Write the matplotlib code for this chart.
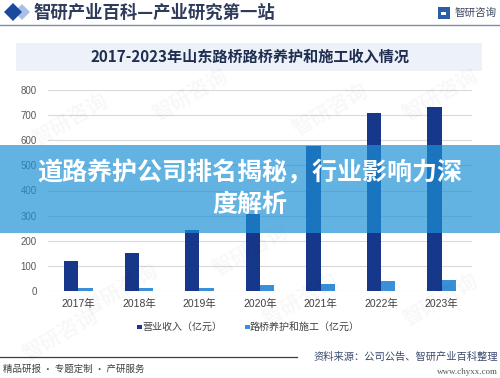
import matplotlib
matplotlib.use("Agg")
import matplotlib.pyplot as plt
from matplotlib.patches import Rectangle, Polygon
import numpy as np

plt.rcParams['font.family'] = ['Liberation Sans', 'Noto Sans CJK SC', 'DejaVu Sans']

categories = ['2017年', '2018年', '2019年', '2020年', '2021年', '2022年', '2023年']
revenue = [121, 152, 244, 305, 577, 707, 732]
maintenance = [11, 13, 11, 24, 29, 41, 44]
series_names = ['营业收入（亿元）', '路桥养护和施工（亿元）']
y_ticks = [0, 100, 200, 300, 400, 500, 600, 700, 800]

header_text = '智研产业百科—产业研究第一站'
logo_text = '智研咨询'
chart_title = '2017-2023年山东路桥路桥养护和施工收入情况'
banner_line1 = '道路养护公司排名揭秘，行业影响力深'
banner_line2 = '度解析'
footer_left = '精品研报 · 专题定制 · 产研服务'
footer_right = '资料来源：公司公告、智研产业百科整理'
footer_url = 'www.chyxx.com'

W, H = 500, 378
fig = plt.figure(figsize=(W / 100, H / 100), dpi=100)
fig.patch.set_facecolor('white')

def fx(px):
    return px / W

def fy(py):
    return 1 - py / H

CJK = ['Noto Sans CJK SC', 'DejaVu Sans']
NAVY = '#17378A'
LIGHT = '#3A8FD6'

# faint watermarks
for (wx, wy) in [(70, 120), (190, 95), (330, 110), (440, 95), (120, 290), (300, 300), (440, 300), (60, 335), (250, 250)]:
    fig.text(fx(wx), fy(wy), logo_text, fontsize=15, color='#000000', alpha=0.03,
             rotation=30, ha='center', va='center', family=CJK, fontweight='bold')

# header
fig.patches.append(Polygon([(fx(22), fy(4)), (fx(30), fy(12)), (fx(22), fy(20)), (fx(14), fy(12))],
                           closed=True, transform=fig.transFigure, facecolor='#A9C1E6', edgecolor='none'))
fig.patches.append(Polygon([(fx(13), fy(3)), (fx(22), fy(12)), (fx(13), fy(21)), (fx(4), fy(12))],
                           closed=True, transform=fig.transFigure, facecolor='#1B4A9C', edgecolor='none'))
fig.text(fx(33), fy(13), header_text, fontsize=12.5, color='#2E3B5A', ha='left', va='center',
         family=CJK, fontweight='bold')
fig.lines.append(plt.Line2D([0, 1], [fy(25), fy(25)], transform=fig.transFigure, color='#7D8BA3', lw=1))
# logo icon
fig.patches.append(Rectangle((fx(438), fy(19)), fx(12), 12 / H, transform=fig.transFigure,
                             facecolor='#2A5CAA', edgecolor='none'))
fig.patches.append(Rectangle((fx(441), fy(15)), fx(5), 3 / H, transform=fig.transFigure,
                             facecolor='white', edgecolor='none'))
fig.text(fx(455), fy(13), logo_text, fontsize=7.6, color='#3A4660', ha='left', va='center', family=CJK)

# title box
fig.patches.append(Rectangle((fx(16), fy(71)), fx(466), 28 / H, transform=fig.transFigure,
                             facecolor='#EDF2F9', edgecolor='none'))
fig.text(fx(250), fy(57), chart_title, fontsize=10.9, color='#1F2D50', ha='center', va='center',
         family=CJK, fontweight='bold')

# main axes
ax = fig.add_axes([fx(48), fy(291), fx(424), (291 - 90) / H])
ax.set_facecolor('none')
x = np.arange(len(categories))
bw = 0.235
ax.bar(x - bw, revenue, width=bw, align='edge', color=NAVY, zorder=3)
ax.bar(x, maintenance, width=bw, align='edge', color=LIGHT, zorder=3)
ax.set_xlim(-0.5, len(categories) - 0.5)
ax.set_ylim(0, 800)
ax.set_yticks(y_ticks)
ax.set_yticklabels([str(v) for v in y_ticks])
ax.set_xticks(x)
ax.set_xticklabels(categories, family=['Liberation Sans', 'Noto Sans CJK SC'])
ax.grid(axis='y', color='#D9D9D9', lw=0.8, zorder=0)
for s in ax.spines.values():
    s.set_visible(False)
ax.tick_params(axis='both', length=0)
ax.tick_params(axis='y', labelsize=7, labelcolor='#595959', pad=8)
ax.tick_params(axis='x', labelsize=7.5, labelcolor='#404040', pad=6)

# legend
for (lx, tx, col, name) in [(137, 142, NAVY, series_names[0]), (245, 250, LIGHT, series_names[1])]:
    fig.patches.append(Rectangle((fx(lx), fy(329)), fx(4.5), 4.5 / H, transform=fig.transFigure,
                                 facecolor=col, edgecolor='none'))
    fig.text(fx(tx), fy(327), name, fontsize=7.2, color='#404040', ha='left', va='center', family=CJK)

# banner overlay
fig.patches.append(Rectangle((0, fy(233)), 1, (233 - 145) / H, transform=fig.transFigure,
                             facecolor=(29 / 255, 145 / 255, 214 / 255), alpha=0.69, edgecolor='none', zorder=10))
fig.text(0.5, fy(173), banner_line1, fontsize=18, color='white', ha='center', va='center',
         family=CJK, fontweight='bold', zorder=11)
fig.text(0.5, fy(205), banner_line2, fontsize=18, color='white', ha='center', va='center',
         family=CJK, fontweight='bold', zorder=11)

# footer
fig.lines.append(plt.Line2D([0, fx(297)], [fy(357), fy(357)], transform=fig.transFigure, color='#2F3E5C', lw=0.9))
fig.text(fx(3), fy(369), footer_left, fontsize=6.8, color='#404040', ha='left', va='center', family=CJK)
fig.text(fx(498), fy(357), footer_right, fontsize=7.4, color='#3B4A6E', ha='right', va='center', family=CJK)
fig.text(fx(498), fy(372), footer_url, fontsize=6.5, color='#555555', ha='right', va='center',
         family=['Liberation Serif', 'DejaVu Serif'])

fig.savefig('out.png', dpi=100)
